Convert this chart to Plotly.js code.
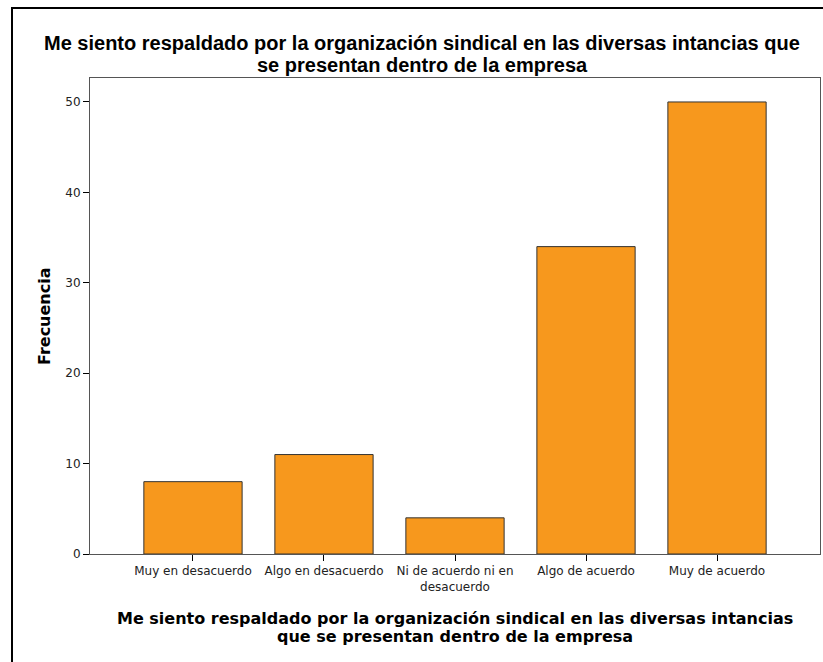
<!DOCTYPE html>
<html>
<head>
<meta charset="utf-8">
<script src="https://cdn.plot.ly/plotly-3.0.1.min.js"></script>
<style>
html,body{margin:0;padding:0;background:#fff;overflow:hidden;}
#frame{position:absolute;left:11px;top:7px;width:900px;height:900px;border:2px solid #000;box-sizing:border-box;}
#chart{position:absolute;left:0;top:0;width:823px;height:662px;}
</style>
</head>
<body>
<div id="frame"></div>
<div id="chart"></div>
<script>
const categories = ["Muy en desacuerdo", "Algo en desacuerdo", "Ni de acuerdo ni en<br>desacuerdo", "Algo de acuerdo", "Muy de acuerdo"];
const frecuencia = [8, 11, 4, 34, 50];
const yTicks = [0, 10, 20, 30, 40, 50];
const titleLines = ["Me siento respaldado por la organización sindical en las diversas intancias que", "se presentan dentro de la empresa"];
const xTitleLines = ["Me siento respaldado por la organización sindical en las diversas intancias", "que se presentan dentro de la empresa"];
const yTitle = "Frecuencia";

const trace = {
  type: 'bar',
  x: categories.map((c, i) => i),
  y: frecuencia,
  marker: {color: '#F7981D', line: {color: '#333333', width: 1}},
  hoverinfo: 'none'
};

const titleFont = {family: 'Liberation Sans, Arial, sans-serif', size: 20, color: '#000', weight: 'bold'};
const axTitleFont = {family: 'DejaVu Sans, sans-serif', size: 16, color: '#000', weight: 'bold'};
const tickFont = {family: 'DejaVu Sans, sans-serif', size: 12, color: '#222'};

const annotations = [
  {text: titleLines[0], xref: 'paper', yref: 'paper', x: 0.4548, y: 1.0735, xanchor: 'center', yanchor: 'middle', showarrow: false, font: titleFont},
  {text: titleLines[1], xref: 'paper', yref: 'paper', x: 0.4548, y: 1.0273, xanchor: 'center', yanchor: 'middle', showarrow: false, font: titleFont},
  {text: xTitleLines[0], xref: 'paper', yref: 'paper', x: 0.5, y: -0.1345, xanchor: 'center', yanchor: 'middle', showarrow: false, font: axTitleFont},
  {text: xTitleLines[1], xref: 'paper', yref: 'paper', x: 0.5, y: -0.1723, xanchor: 'center', yanchor: 'middle', showarrow: false, font: axTitleFont},
  {text: yTitle, xref: 'paper', yref: 'paper', x: -0.063, y: 0.5, xanchor: 'center', yanchor: 'middle', textangle: -90, showarrow: false, font: axTitleFont}
];

const layout = {
  width: 823, height: 662,
  paper_bgcolor: 'rgba(0,0,0,0)',
  plot_bgcolor: '#ffffff',
  margin: {l: 90, r: 3, t: 78, b: 108},
  showlegend: false,
  bargap: 0.25,
  annotations: annotations,
  xaxis: {
    range: [-0.786, 4.786],
    tickmode: 'array',
    tickvals: categories.map((c, i) => i),
    ticktext: categories,
    ticks: 'outside', ticklen: 6, tickcolor: '#000', tickwidth: 1,
    showgrid: false, zeroline: false,
    showline: true, linecolor: '#555', linewidth: 1, mirror: true,
    tickfont: tickFont
  },
  yaxis: {
    range: [0, 52.65],
    tickmode: 'array',
    tickvals: yTicks,
    ticktext: yTicks.map(String),
    ticks: 'outside', ticklen: 6, tickcolor: '#000', tickwidth: 1,
    showgrid: false, zeroline: false,
    showline: true, linecolor: '#555', linewidth: 1, mirror: true,
    tickfont: tickFont
  }
};

Plotly.newPlot('chart', [trace], layout, {displayModeBar: false, staticPlot: true});
</script>
</body>
</html>
